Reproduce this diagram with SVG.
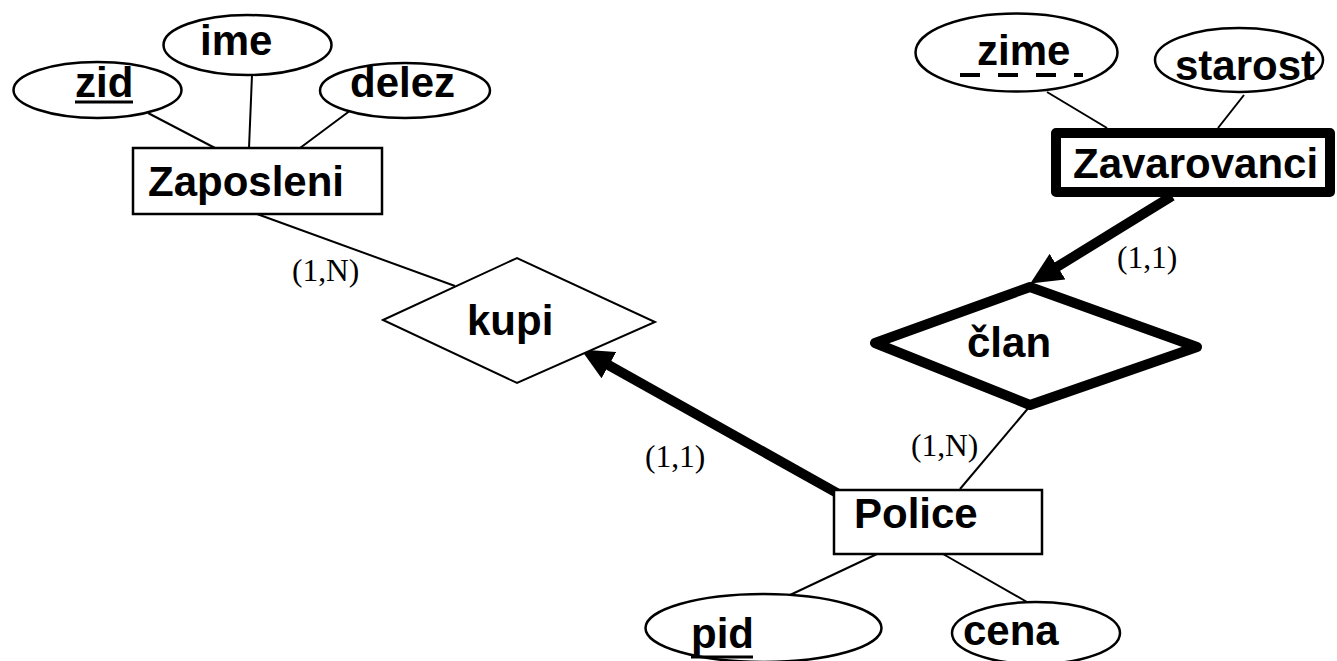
<svg xmlns="http://www.w3.org/2000/svg" width="1337" height="661" viewBox="0 0 1337 661">
  <style>
    .lbl { font-family: "Liberation Sans", Arial, sans-serif; font-weight: bold; font-size: 42px; fill: #000; }
    .card { font-family: "Liberation Serif", "Times New Roman", serif; font-size: 31.5px; fill: #000; }
    .attr { fill: #fff; stroke: #000; stroke-width: 2.5; }
    .ent { fill: #fff; stroke: #000; stroke-width: 2.5; }
    .weak { fill: #fff; stroke: #000; stroke-width: 10; stroke-linejoin: round; }
    .rel { fill: #fff; stroke: #000; stroke-width: 2; }
    .line { stroke: #000; stroke-width: 2; fill: none; }
    .thick { stroke: #000; stroke-width: 10; fill: none; }
    .ul { stroke: #000; stroke-width: 3; }
  </style>
  <defs>
    <marker id="head" markerUnits="userSpaceOnUse" viewBox="0 0 32 30" markerWidth="32" markerHeight="30" refX="8" refY="15" orient="auto">
      <path d="M0,0 L32,15 L0,30 Z" fill="#000"/>
    </marker>
  </defs>
  <rect width="1337" height="661" fill="#fff"/>

  <!-- connectors -->
  <g id="connectors">
    <line class="line" x1="148" y1="113" x2="215" y2="148"/>
    <line class="line" x1="252" y1="75" x2="249" y2="148"/>
    <line class="line" x1="355" y1="107" x2="300" y2="148"/>
    <line class="line" x1="257" y1="214" x2="455" y2="286"/>
    <line class="thick" x1="837" y1="493" x2="601.9" y2="361.3" marker-end="url(#head)"/>
    <line class="line" x1="1047" y1="92" x2="1107" y2="128"/>
    <line class="line" x1="1244" y1="95" x2="1218" y2="128"/>
    <line class="thick" x1="1172" y1="196" x2="1050.7" y2="270.8" marker-end="url(#head)"/>
    <line class="line" x1="960" y1="489" x2="1030" y2="406"/>
    <line class="line" x1="877" y1="554" x2="790" y2="595"/>
    <line class="line" x1="943" y1="554" x2="1027" y2="602"/>
    <text class="card" x="292" y="281">(1,N)</text>
    <text class="card" x="645" y="467">(1,1)</text>
    <text class="card" x="911" y="456">(1,N)</text>
    <text class="card" x="1117" y="268">(1,1)</text>
  </g>

  <!-- entity Zaposleni with attributes -->
  <g id="zaposleni">
    <rect class="ent" x="133" y="148" width="249" height="66"/>
    <text class="lbl" x="148" y="196">Zaposleni</text>
  </g>
  <g id="zid">
    <ellipse class="attr" cx="97.5" cy="90" rx="84" ry="28"/>
    <text class="lbl" x="75" y="97">zid</text>
    <line class="ul" x1="75" y1="102" x2="133" y2="102"/>
  </g>
  <g id="ime">
    <ellipse class="attr" cx="247.5" cy="45" rx="84" ry="30"/>
    <text class="lbl" x="200" y="55">ime</text>
  </g>
  <g id="delez">
    <ellipse class="attr" cx="405" cy="90.5" rx="85" ry="27.5"/>
    <text class="lbl" x="350" y="97">delez</text>
  </g>

  <!-- relationship kupi -->
  <g id="kupi">
    <polygon class="rel" points="383,320 517,258 655,322 517,383"/>
    <text class="lbl" x="467" y="335">kupi</text>
  </g>

  <!-- weak entity Zavarovanci with attributes -->
  <g id="zavarovanci">
    <rect class="weak" x="1056" y="133" width="274" height="59"/>
    <text class="lbl" x="1073" y="178">Zavarovanci</text>
  </g>
  <g id="zime">
    <ellipse class="attr" cx="1016.5" cy="52.5" rx="101" ry="39"/>
    <text class="lbl" x="977" y="65">zime</text>
    <line x1="960" y1="75" x2="1083" y2="75" stroke="#000" stroke-width="4" stroke-dasharray="20 18"/>
  </g>
  <g id="starost">
    <ellipse class="attr" cx="1239" cy="60" rx="84" ry="32"/>
    <text class="lbl" x="1175" y="80">starost</text>
  </g>

  <!-- identifying relationship clan -->
  <g id="clan">
    <polygon class="weak" points="875,343 1030,287 1197,347 1030,405"/>
    <text class="lbl" x="967" y="357">član</text>
  </g>

  <!-- entity Police with attributes -->
  <g id="police">
    <rect class="ent" x="834" y="490" width="208" height="64"/>
    <text class="lbl" x="854" y="528">Police</text>
  </g>
  <g id="pid">
    <ellipse class="attr" cx="763.5" cy="628" rx="118" ry="34"/>
    <text class="lbl" x="691" y="648">pid</text>
    <line class="ul" x1="691" y1="657" x2="753" y2="657"/>
  </g>
  <g id="cena">
    <ellipse class="attr" cx="1036" cy="633" rx="84" ry="31"/>
    <text class="lbl" x="963" y="645">cena</text>
  </g>
</svg>
